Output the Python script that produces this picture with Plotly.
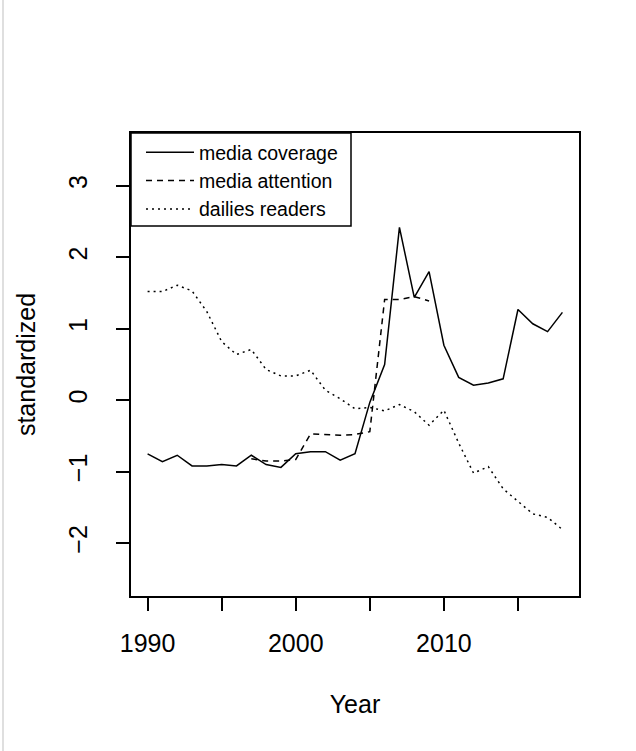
import plotly.graph_objects as go

# Years covered by the yearly series
years = list(range(1990, 2019))

# Standardized media coverage, 1990-2018
coverage = [-0.75, -0.86, -0.77, -0.92, -0.92, -0.90, -0.92, -0.77, -0.90, -0.94,
            -0.75, -0.72, -0.72, -0.84, -0.75, -0.03, 0.50, 2.42, 1.44, 1.80,
            0.77, 0.32, 0.21, 0.24, 0.30, 1.27, 1.07, 0.96, 1.23]

# Standardized media attention, only available 1997-2009
attention_years = list(range(1997, 2010))
attention = [-0.82, -0.85, -0.85, -0.83, -0.47, -0.48, -0.49, -0.48, -0.44,
             1.41, 1.41, 1.45, 1.39]

# Standardized number of daily newspaper readers, 1990-2018
readers = [1.52, 1.52, 1.61, 1.53, 1.24, 0.82, 0.64, 0.71, 0.43, 0.34,
           0.34, 0.42, 0.14, 0.02, -0.12, -0.10, -0.15, -0.06, -0.16, -0.35,
           -0.14, -0.60, -1.02, -0.93, -1.24, -1.42, -1.59, -1.64, -1.81]

x_ticks = [1990, 1995, 2000, 2005, 2010, 2015]
x_tick_text = ["1990", "", "2000", "", "2010", ""]
y_ticks = [-2, -1, 0, 1, 2, 3]

FONT = "Liberation Sans, Arial, sans-serif"

# plot area in pixels (used to place the legend frame and page edge line)
PLOT_W, PLOT_H = 448, 463

fig = go.Figure()
fig.add_trace(go.Scatter(x=years, y=coverage, mode="lines", name="media coverage",
                         line=dict(color="black", width=1.5, dash="solid")))
fig.add_trace(go.Scatter(x=attention_years, y=attention, mode="lines", name="media attention",
                         line=dict(color="black", width=1.5, dash="6px,5px")))
fig.add_trace(go.Scatter(x=years, y=readers, mode="lines", name="dailies readers",
                         line=dict(color="black", width=1.5, dash="2px,4px")))

fig.update_layout(
    width=636, height=751,
    margin=dict(l=131, r=57, t=133, b=155),
    paper_bgcolor="white", plot_bgcolor="white",
    font=dict(family=FONT, size=25, color="black"),
    showlegend=True,
    legend=dict(x=10 / PLOT_W, y=1, xanchor="left", yanchor="top",
                bgcolor="rgba(0,0,0,0)", borderwidth=0,
                font=dict(family=FONT, size=19.5, color="black"),
                itemwidth=48, tracegroupgap=0),
    xaxis=dict(range=[1988.88, 2019.12], tickvals=x_ticks, ticktext=x_tick_text,
               ticks="outside", ticklen=13, tickwidth=1.5, tickcolor="black",
               showline=True, linecolor="black", linewidth=1.5, mirror=True,
               showgrid=False, zeroline=False, ticklabelstandoff=11,
               tickfont=dict(family=FONT, size=25, color="black"),
               title=dict(text="Year", standoff=40,
                          font=dict(family=FONT, size=25, color="black"))),
    yaxis=dict(range=[-2.74, 3.74], tickvals=y_ticks, tickangle=-90,
               ticks="outside", ticklen=13, tickwidth=1.5, tickcolor="black",
               showline=True, linecolor="black", linewidth=1.5, mirror=True,
               showgrid=False, zeroline=False, ticklabelstandoff=19,
               tickfont=dict(family=FONT, size=25, color="black"),
               title=dict(text="standardized", standoff=22,
                          font=dict(family=FONT, size=25, color="black"))),
    shapes=[
        # legend frame
        dict(type="rect", xref="paper", yref="paper", layer="above",
             x0=0, x1=220 / PLOT_W, y0=1 - 93 / PLOT_H, y1=1,
             fillcolor="white", line=dict(color="black", width=1.5)),
        # page edge
        dict(type="line", xref="paper", yref="paper",
             x0=-128 / PLOT_W, x1=-128 / PLOT_W, y0=-155 / PLOT_H, y1=618 / PLOT_H,
             line=dict(color="#d4d4d4", width=1.5)),
    ],
)

fig.write_html("out.html")
